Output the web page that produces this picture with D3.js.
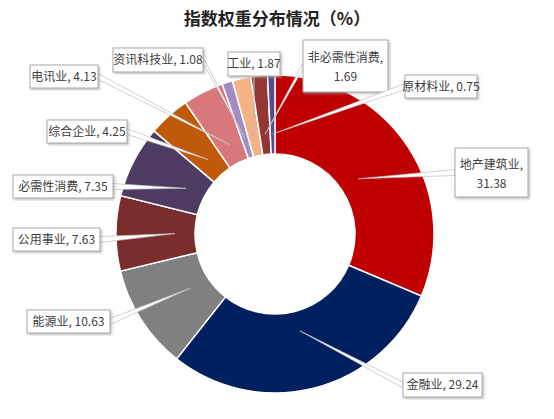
<!DOCTYPE html><html><head><meta charset="utf-8">
<script src="https://cdn.jsdelivr.net/npm/d3@7"></script>
<style>body{margin:0;background:#fff}svg{font-family:"Noto Sans CJK SC","Noto Sans",sans-serif}</style></head><body>
<svg id="c" width="554" height="419"></svg>
<script>
const categories=["地产建筑业","金融业","能源业","公用事业","必需性消费","综合企业","电讯业","资讯科技业","工业","非必需性消费","原材料业"];
const values=[31.38,29.24,10.63,7.63,7.35,4.25,4.13,1.08,1.87,1.69,0.75];
const colors=["#c00000","#002060","#808080","#7b2c2c","#4e3b62","#c05a0a","#d9787a","#a08cc0","#f4b183","#943634","#5b4a8c"];
// label box layout: [x,y,w,h,lines]
const boxes=[[455,148,73,49,2],[403,373,79,24,1],[27,310,83,23,1],[13,228,87,23,1],[13,175,100,23,1],[47,120,80,23,1],[30,65,68,23,1],[113,48,90,24,1],[228,52,52,24,1],[303,40,85,52,2],[405,75,72,23,1]];
const svg=d3.select("#c");
svg.append("text").attr("x",277).attr("y",25).attr("text-anchor","middle").attr("font-size",17).attr("font-weight","bold").attr("fill","#222").text("指数权重分布情况（%）");
const cx=275,cy=234,R=159,r=80;
const pie=d3.pie().sort(null).value(d=>d)(values);
const arc=d3.arc().innerRadius(r).outerRadius(R);
const g=svg.append("g").attr("transform",`translate(${cx},${cy})`);
g.selectAll("path").data(pie).join("path").attr("d",arc).attr("fill",(d,i)=>colors[i]).attr("stroke","#fff").attr("stroke-width",1.5);
const mid=d3.arc().innerRadius(r+20).outerRadius(r+20);
const defs=svg.append("defs");
const f=defs.append("filter").attr("id","sh");
f.append("feDropShadow").attr("dx",1.5).attr("dy",1.5).attr("stdDeviation",1).attr("flood-color","#999").attr("flood-opacity",0.6);
pie.forEach((d,i)=>{
  const b=boxes[i];const [px,py]=mid.centroid(d);
  const ax=px+cx, ay=py+cy;
  const bx=ax<b[0]?b[0]:(ax>b[0]+b[2]?b[0]+b[2]:b[0]+b[2]/2);
  const by=ax>=b[0]&&ax<=b[0]+b[2]?(ay>b[1]?b[1]+b[3]:b[1]):b[1]+b[3]/2;
  svg.append("path").attr("d",`M${bx},${by-3}L${ax},${ay}L${bx},${by+3}Z`).attr("fill","#fff").attr("stroke","#bbb").attr("stroke-width",0.7);
  svg.append("rect").attr("x",b[0]).attr("y",b[1]).attr("width",b[2]).attr("height",b[3]).attr("fill","#fff").attr("stroke","#aaa").attr("filter","url(#sh)");
  const t=svg.append("text").attr("font-size",12).attr("fill","#404040").attr("text-anchor","middle");
  if(b[4]==1){t.attr("x",b[0]+b[2]/2).attr("y",b[1]+b[3]/2+4).text(categories[i]+", "+values[i]);}
  else{t.append("tspan").attr("x",b[0]+b[2]/2).attr("y",b[1]+b[3]/2-4).text(categories[i]+",");
       t.append("tspan").attr("x",b[0]+b[2]/2).attr("y",b[1]+b[3]/2+15).text(values[i].toFixed(2));}
});
</script></body></html>
